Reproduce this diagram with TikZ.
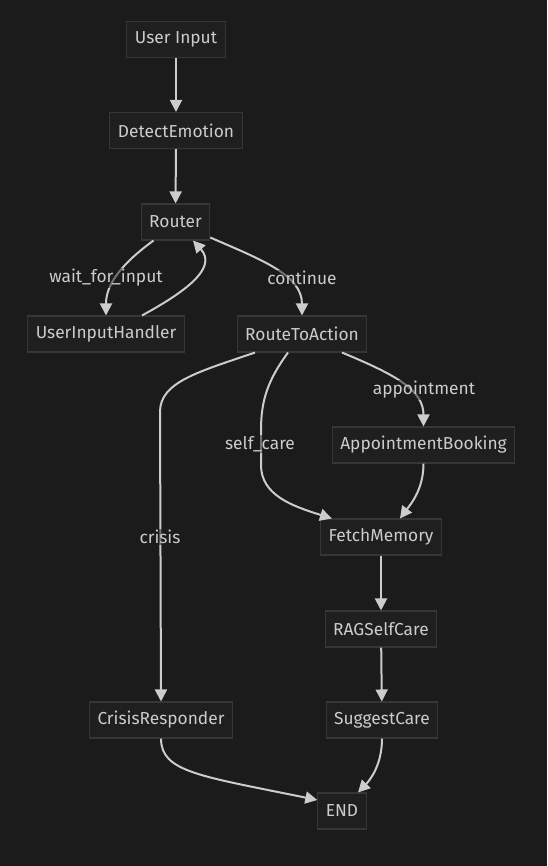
\documentclass[tikz,border=0pt]{standalone}
\usepackage{fontspec}
\setmainfont{Fira Sans}
\usetikzlibrary{positioning}
\usetikzlibrary{calc}
\usetikzlibrary{arrows.meta}
\definecolor{bgc}{RGB}{27,27,27}
\definecolor{boxfill}{RGB}{31,31,31}
\definecolor{boxline}{RGB}{54,54,54}
\definecolor{ink}{RGB}{204,204,204}

\begin{document}
\begin{tikzpicture}[x=0.75pt, y=-0.75pt,
    >={Triangle[length=9pt, width=9pt]},
    box/.style={draw=boxline, fill=boxfill, line width=0.8pt, text=ink, font=\fontsize{13}{15}\selectfont,
        minimum height=27pt, inner xsep=6pt},
    edge/.style={->, draw=ink, line width=1.5pt},
    lbl/.style={text=ink, font=\fontsize{13}{15}\selectfont, fill=bgc, fill opacity=0.5, text opacity=1, inner sep=1pt}]
    \fill[bgc] (0,0) rectangle (547,866);

    % Nodes
    \node[box] (uin) at (176,39.5) {User Input};
    \node[box] (detect) at (176,130.5) {DetectEmotion};
    \node[box] (router) at (175.5,222) {Router};
    \node[box] (handler) at (106,334) {UserInputHandler};
    \node[box] (route) at (302,334) {RouteToAction};
    \node[box] (booking) at (423.5,445) {AppointmentBooking};
    \node[box] (fetch) at (381,537) {FetchMemory};
    \node[box] (rag) at (381,629) {RAGSelfCare};
    \node[box] (crisis) at (161,720) {CrisisResponder};
    \node[box] (suggest) at (382,720) {SuggestCare};
    \node[box] (endn) at (342,811) {END};

    % Straight edges
    \draw[edge] (uin) -- (detect);
    \draw[edge] (detect) -- (router);
    \draw[edge] (fetch) -- (rag);
    \draw[edge] (rag) -- (suggest);

    % Router loop
    \draw[edge] ($(router.south)+(-22,0)$) .. controls (120,265) and (106,285) .. (handler.north);
    \draw[edge] ($(handler.north)+(36,0)$) .. controls (185,292) and (218,268) .. ($(router.south)+(17.5,0)$);
    \draw[edge] ($(router.south east)+(0,-3)$) .. controls (262,260) and (302,275) .. (route.north);

    % Branches of RouteToAction
    \draw[edge] ($(route.south)+(40,0)$) .. controls (396,375) and (423.5,390) .. (booking.north);
    \draw[edge] ($(route.south)+(-14,0)$) .. controls (268,380) and (261,400) .. (261,430)
        -- (261,465) .. controls (261,495) and (292,506) .. ($(fetch.north)+(-49,0)$);
    \draw[edge] ($(route.south)+(-47,0)$) .. controls (198,372) and (160,382) .. (160,412) -- (crisis.north);
    \draw[edge] (booking.south) .. controls (423.5,490) and (410,505) .. ($(fetch.north)+(19,0)$);

    % To END
    \draw[edge] (suggest.south) .. controls (382,765) and (370,780) .. ($(endn.north)+(16,0)$);
    \draw[edge] (crisis.south) .. controls (161,772) and (200,776) .. ($(endn.west)+(0,-11)$);

    % Labels
    \node[lbl] (lwait) at (106,278) {wait\_for\_input};
    \node[lbl] (lcont) at (302,278) {continue};
    \node[lbl] (lappt) at (424,390) {appointment};
    \node[lbl] (lself) at (260,444) {self\_care};
    \node[lbl] (lcris) at (160,537) {crisis};
\end{tikzpicture}
\end{document}
